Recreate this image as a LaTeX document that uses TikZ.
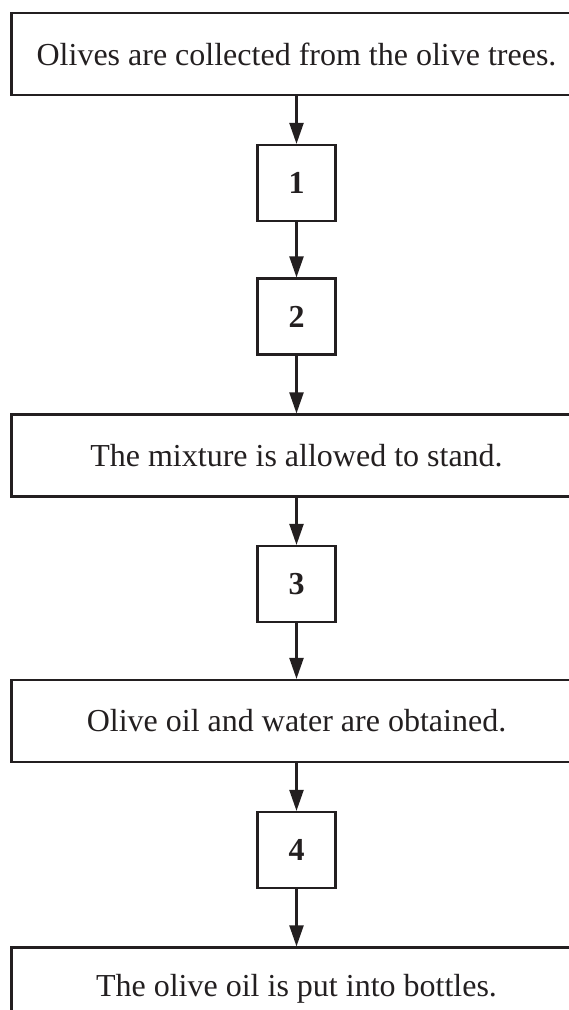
\documentclass[tikz,border=0pt]{standalone}
\usepackage{fontspec}
\setmainfont{Liberation Serif}
\usepackage{xcolor}
\usetikzlibrary{arrows.meta}
\definecolor{inkgray}{HTML}{231F20}

\begin{document}
\begin{tikzpicture}[
      x=1pt, y=-1pt,
      stage/.style={draw=inkgray, line width=2.2pt, minimum width=570pt, minimum height=82pt, inner sep=0pt, text=inkgray, font=\fontsize{32}{38}\selectfont},
      numbox/.style={draw=inkgray, line width=2.2pt, minimum width=78pt, minimum height=76pt, inner sep=0pt, text=inkgray, font=\fontsize{32}{38}\selectfont\bfseries},
      line/.style={-{Triangle[length=21pt, width=14pt]}, line width=2.2pt, draw=inkgray}
    ]
      \clip (0,0) rectangle (569,1010);

      \node[stage] (collect) at (296.5,54) {Olives are collected from the olive trees.};
      \node[numbox] (one) at (296.5,183) {1};
      \node[numbox] (two) at (296.5,316.5) {2};
      \node[stage] (stand) at (296.5,455.5) {The mixture is allowed to stand.};
      \node[numbox] (three) at (296.5,584) {3};
      \node[stage] (obtain) at (296.5,721) {Olive oil and water are obtained.};
      \node[numbox] (four) at (296.5,850) {4};
      \node[stage] (bottle) at (296.5,988.5) {The olive oil is put into bottles.};

      \draw[line] (collect) -- (one);
      \draw[line] (one) -- (two);
      \draw[line] (two) -- (stand);
      \draw[line] (stand) -- (three);
      \draw[line] (three) -- (obtain);
      \draw[line] (obtain) -- (four);
      \draw[line] (four) -- (bottle);
    \end{tikzpicture}
\end{document}
